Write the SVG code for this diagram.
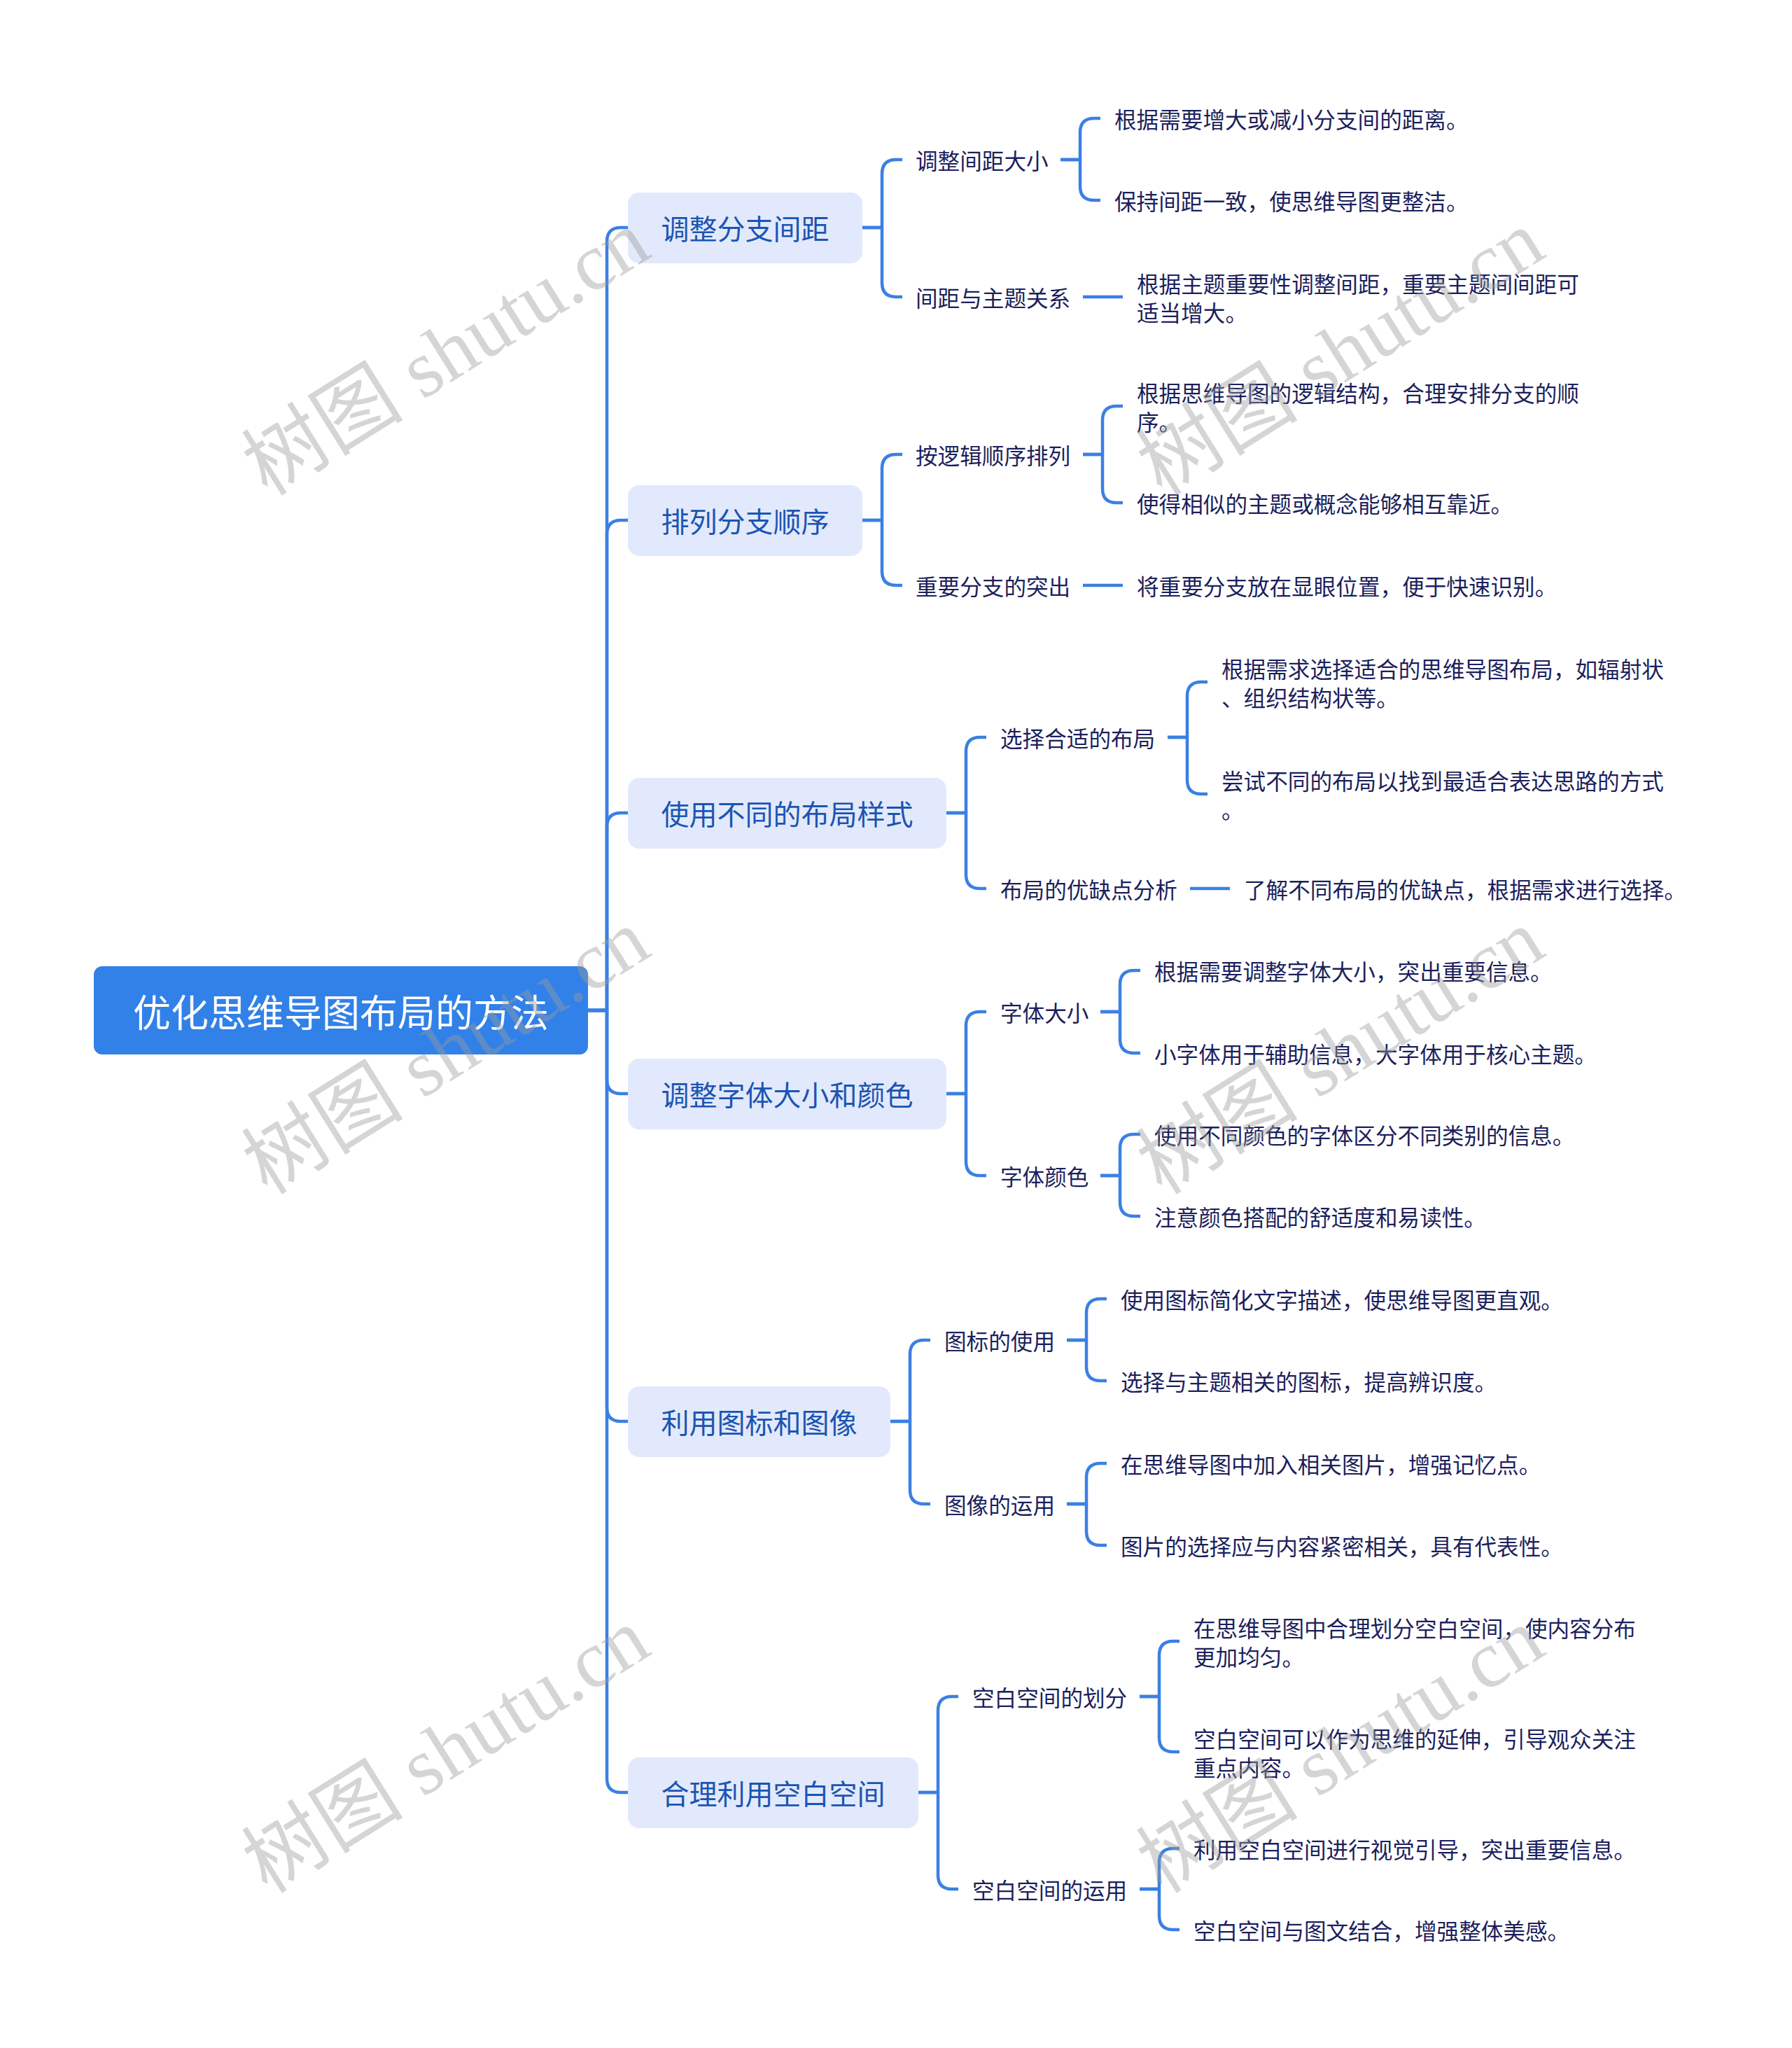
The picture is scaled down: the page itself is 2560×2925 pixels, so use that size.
<svg xmlns="http://www.w3.org/2000/svg" width="2560" height="2925" viewBox="0 0 2560 2925">
<style>
.bg{fill:#ffffff}
.root rect{fill:#3181e8}
.root text{fill:#ffffff;font-size:54px}
.l1 rect{fill:#e2e9fc}
.l1 text{fill:#1b55b2;font-size:40px;text-anchor:middle}
.l2 text,.l3 text{fill:#1c1f5c;font-size:31.6px}
text{font-family:"Noto Sans CJK SC","Noto Sans",sans-serif;dominant-baseline:central}
.conn path{fill:none;stroke:#3a80e3;stroke-width:4.5;stroke-linecap:butt;stroke-linejoin:round}
.wm text{font-family:"Liberation Serif","Noto Sans CJK SC",serif;font-size:116px;fill:#9a9a9a;fill-opacity:0.42;dominant-baseline:alphabetic}
</style>
<rect class="bg" x="0" y="0" width="2560" height="2925"/>

<g id="connectors" class="conn">
<path d="M840,1443 H867 V345 Q867,325 887,325 H897"/>
<path d="M840,1443 H867 V763 Q867,743 887,743 H897"/>
<path d="M840,1443 H867 V1181 Q867,1161 887,1161 H897"/>
<path d="M840,1443 H867 V1542 Q867,1562 887,1562 H897"/>
<path d="M840,1443 H867 V2010 Q867,2030 887,2030 H897"/>
<path d="M840,1443 H867 V2540 Q867,2560 887,2560 H897"/>

<path d="M1232,325 H1260 V248 Q1260,228 1280,228 H1289"/>
<path d="M1232,325 H1260 V404 Q1260,424 1280,424 H1289"/>
<path d="M1232,743 H1260 V669 Q1260,649 1280,649 H1289"/>
<path d="M1232,743 H1260 V816 Q1260,836 1280,836 H1289"/>
<path d="M1352,1161 H1380 V1073 Q1380,1053 1400,1053 H1409"/>
<path d="M1352,1161 H1380 V1249 Q1380,1269 1400,1269 H1409"/>
<path d="M1352,1562 H1380 V1465 Q1380,1445 1400,1445 H1409"/>
<path d="M1352,1562 H1380 V1659 Q1380,1679 1400,1679 H1409"/>
<path d="M1272,2030 H1300 V1934 Q1300,1914 1320,1914 H1329"/>
<path d="M1272,2030 H1300 V2128 Q1300,2148 1320,2148 H1329"/>
<path d="M1312,2560 H1340 V2443 Q1340,2423 1360,2423 H1369"/>
<path d="M1312,2560 H1340 V2678 Q1340,2698 1360,2698 H1369"/>

<path d="M1515,228 H1543 V189 Q1543,169 1563,169 H1572"/>
<path d="M1515,228 H1543 V266 Q1543,286 1563,286 H1572"/>
<path d="M1547,424 H1604"/>
<path d="M1547,649 H1575 V600 Q1575,580 1595,580 H1604"/>
<path d="M1547,649 H1575 V698 Q1575,718 1595,718 H1604"/>
<path d="M1547,836 H1604"/>
<path d="M1668,1053 H1696 V994 Q1696,974 1716,974 H1725"/>
<path d="M1668,1053 H1696 V1114 Q1696,1134 1716,1134 H1725"/>
<path d="M1700,1269 H1757"/>
<path d="M1572,1445 H1600 V1406 Q1600,1386 1620,1386 H1629"/>
<path d="M1572,1445 H1600 V1484 Q1600,1504 1620,1504 H1629"/>
<path d="M1572,1679 H1600 V1640 Q1600,1620 1620,1620 H1629"/>
<path d="M1572,1679 H1600 V1717 Q1600,1737 1620,1737 H1629"/>
<path d="M1524,1914 H1552 V1875 Q1552,1855 1572,1855 H1581"/>
<path d="M1524,1914 H1552 V1952 Q1552,1972 1572,1972 H1581"/>
<path d="M1524,2148 H1552 V2110 Q1552,2090 1572,2090 H1581"/>
<path d="M1524,2148 H1552 V2187 Q1552,2207 1572,2207 H1581"/>
<path d="M1628,2423 H1656 V2364 Q1656,2344 1676,2344 H1685"/>
<path d="M1628,2423 H1656 V2482 Q1656,2502 1676,2502 H1685"/>
<path d="M1628,2698 H1656 V2660 Q1656,2640 1676,2640 H1685"/>
<path d="M1628,2698 H1656 V2736 Q1656,2756 1676,2756 H1685"/>
</g>

<g id="root" class="root">
<rect x="134" y="1380" width="706" height="126" rx="12"/>
<text x="190" y="1443">优化思维导图布局的方法</text>
</g>

<g id="n1" class="l1"><rect x="897" y="275" width="335" height="101" rx="16"/><text x="1064.5" y="325">调整分支间距</text></g>
<g id="n2" class="l1"><rect x="897" y="693" width="335" height="101" rx="16"/><text x="1064.5" y="743">排列分支顺序</text></g>
<g id="n3" class="l1"><rect x="897" y="1111" width="455" height="101" rx="16"/><text x="1124.5" y="1161">使用不同的布局样式</text></g>
<g id="n4" class="l1"><rect x="897" y="1512" width="455" height="101" rx="16"/><text x="1124.5" y="1562">调整字体大小和颜色</text></g>
<g id="n5" class="l1"><rect x="897" y="1980" width="375" height="101" rx="16"/><text x="1084.5" y="2030">利用图标和图像</text></g>
<g id="n6" class="l1"><rect x="897" y="2510" width="415" height="101" rx="16"/><text x="1104.5" y="2560">合理利用空白空间</text></g>

<g id="n1a" class="l2"><text x="1308" y="228">调整间距大小</text></g>
<g id="n1a1" class="l3"><text x="1592" y="169">根据需要增大或减小分支间的距离。</text></g>
<g id="n1a2" class="l3"><text x="1592" y="286">保持间距一致，使思维导图更整洁。</text></g>
<g id="n1b" class="l2"><text x="1308" y="424">间距与主题关系</text></g>
<g id="n1b1" class="l3"><text x="1624" y="403.5">根据主题重要性调整间距，重要主题间间距可</text><text x="1624" y="444.5">适当增大。</text></g>

<g id="n2a" class="l2"><text x="1308" y="649">按逻辑顺序排列</text></g>
<g id="n2a1" class="l3"><text x="1624" y="559.5">根据思维导图的逻辑结构，合理安排分支的顺</text><text x="1624" y="600.5">序。</text></g>
<g id="n2a2" class="l3"><text x="1624" y="718">使得相似的主题或概念能够相互靠近。</text></g>
<g id="n2b" class="l2"><text x="1308" y="836">重要分支的突出</text></g>
<g id="n2b1" class="l3"><text x="1624" y="836">将重要分支放在显眼位置，便于快速识别。</text></g>

<g id="n3a" class="l2"><text x="1429" y="1053">选择合适的布局</text></g>
<g id="n3a1" class="l3"><text x="1745" y="953.5">根据需求选择适合的思维导图布局，如辐射状</text><text x="1745" y="994.5">、组织结构状等。</text></g>
<g id="n3a2" class="l3"><text x="1745" y="1113.5">尝试不同的布局以找到最适合表达思路的方式</text><text x="1745" y="1154.5">。</text></g>
<g id="n3b" class="l2"><text x="1429" y="1269">布局的优缺点分析</text></g>
<g id="n3b1" class="l3"><text x="1777" y="1269">了解不同布局的优缺点，根据需求进行选择。</text></g>

<g id="n4a" class="l2"><text x="1429" y="1445">字体大小</text></g>
<g id="n4a1" class="l3"><text x="1649" y="1386">根据需要调整字体大小，突出重要信息。</text></g>
<g id="n4a2" class="l3"><text x="1649" y="1504">小字体用于辅助信息，大字体用于核心主题。</text></g>
<g id="n4b" class="l2"><text x="1429" y="1679">字体颜色</text></g>
<g id="n4b1" class="l3"><text x="1649" y="1620">使用不同颜色的字体区分不同类别的信息。</text></g>
<g id="n4b2" class="l3"><text x="1649" y="1737">注意颜色搭配的舒适度和易读性。</text></g>

<g id="n5a" class="l2"><text x="1349" y="1914">图标的使用</text></g>
<g id="n5a1" class="l3"><text x="1601" y="1855">使用图标简化文字描述，使思维导图更直观。</text></g>
<g id="n5a2" class="l3"><text x="1601" y="1972">选择与主题相关的图标，提高辨识度。</text></g>
<g id="n5b" class="l2"><text x="1349" y="2148">图像的运用</text></g>
<g id="n5b1" class="l3"><text x="1601" y="2090">在思维导图中加入相关图片，增强记忆点。</text></g>
<g id="n5b2" class="l3"><text x="1601" y="2207">图片的选择应与内容紧密相关，具有代表性。</text></g>

<g id="n6a" class="l2"><text x="1389" y="2423">空白空间的划分</text></g>
<g id="n6a1" class="l3"><text x="1705" y="2323.5">在思维导图中合理划分空白空间，使内容分布</text><text x="1705" y="2364.5">更加均匀。</text></g>
<g id="n6a2" class="l3"><text x="1705" y="2481.5">空白空间可以作为思维的延伸，引导观众关注</text><text x="1705" y="2522.5">重点内容。</text></g>
<g id="n6b" class="l2"><text x="1389" y="2698">空白空间的运用</text></g>
<g id="n6b1" class="l3"><text x="1705" y="2640">利用空白空间进行视觉引导，突出重要信息。</text></g>
<g id="n6b2" class="l3"><text x="1705" y="2756">空白空间与图文结合，增强整体美感。</text></g>

<g id="watermarks" class="wm">
<text transform="translate(382,710) rotate(-32)">树图 shutu.cn</text>
<text transform="translate(1660,710) rotate(-32)">树图 shutu.cn</text>
<text transform="translate(382,1708) rotate(-32)">树图 shutu.cn</text>
<text transform="translate(1660,1708) rotate(-32)">树图 shutu.cn</text>
<text transform="translate(382,2706) rotate(-32)">树图 shutu.cn</text>
<text transform="translate(1660,2706) rotate(-32)">树图 shutu.cn</text>
</g>
</svg>
